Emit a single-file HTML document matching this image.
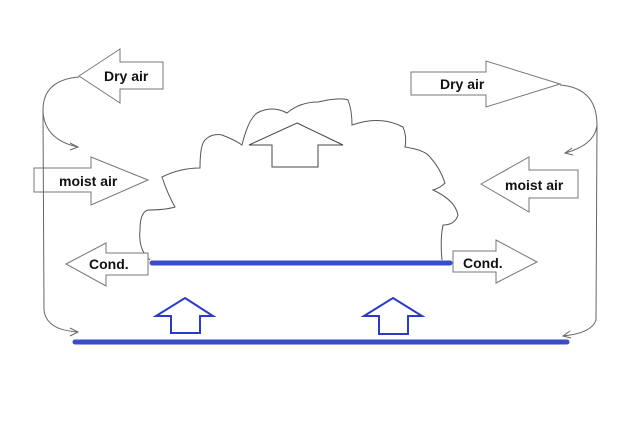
<!DOCTYPE html>
<html><head><meta charset="utf-8"><style>
html,body{margin:0;padding:0;background:#fff;}
svg{display:block}
text{font-family:"Liberation Sans",sans-serif;font-weight:bold;font-size:14px;fill:#111;}
</style></head><body>
<svg width="640" height="431" viewBox="0 0 640 431" xmlns="http://www.w3.org/2000/svg">
<rect width="640" height="431" fill="#fff"/>
<g fill="#fff" stroke="#777" stroke-width="1">
<!-- cloud -->
<path d="M150,260 Q138,250 140,230 Q140,212 148,210 Q165,210 175,207 Q168,195 162,177 Q180,168 200,168 Q200,145 205,140 Q212,133 222,135 Q235,140 242,145 Q248,120 257,113 Q272,105 287,113 Q300,102 318,102 Q340,97 348,100 Q352,110 352,125 Q380,115 403,127 Q407,137 405,147 Q425,150 430,157 Q440,168 445,183 Q440,188 433,190 Q455,200 458,215 Q455,225 443,225 Q440,240 442,260" stroke="#555"/>
<!-- cloud up arrow -->
<path d="M297,123 L343,145 L318,145 L318,167 L272,167 L272,145 L249,145 Z" stroke="#444"/>
<!-- left dry air -->
<path d="M79,76 L120,49 L120,62 L163,62 L163,89 L120,89 L120,103 Z"/>
<!-- left moist air -->
<path d="M148,180 L91,157 L91,168 L34,168 L34,192 L91,192 L91,205 Z"/>
<!-- left cond -->
<path d="M66,264 L106,243 L106,253 L148,253 L148,275 L106,275 L106,286 Z"/>
<!-- right dry air -->
<path d="M560,84 L486,61 L486,72 L411,72 L411,95 L486,95 L486,107 Z"/>
<!-- right moist air -->
<path d="M481,184 L529,157 L529,170 L578,170 L578,198 L529,198 L529,212 Z"/>
<!-- right cond -->
<path d="M537,262 L496,240 L496,251 L453,251 L453,272 L496,272 L496,283 Z"/>
</g>
<g fill="none" stroke="#666" stroke-width="1">
<path d="M79,77 Q42,80 43,112 Q45,140 78,147"/>
<path d="M70,143 L78,147 L70,150"/>
<path d="M43,112 L44,310 Q46,330 78,332"/>
<path d="M70,328 L78,332 L70,336"/>
<path d="M560,85 Q597,88 597,125 Q595,145 565,153"/>
<path d="M572,148 L565,153 L573,155"/>
<path d="M597,125 L596,320 Q592,333 563,336"/>
<path d="M570,331 L563,336 L571,338"/>
</g>
<g stroke="#3a4cc8" stroke-linecap="round" stroke-width="5">
<line x1="152" y1="263" x2="450" y2="263"/>
<line x1="75" y1="342" x2="567" y2="342"/>
</g>
<g fill="#fff" stroke="#2a3bc8" stroke-width="2">
<path d="M185,298 L213,316 L200,316 L200,333 L171,333 L171,316 L156,316 Z"/>
<path d="M393,298 L422,316 L408,316 L408,334 L379,334 L379,316 L364,316 Z"/>
</g>
<text x="104" y="81">Dry air</text>
<text x="440" y="89">Dry air</text>
<text x="59" y="186">moist air</text>
<text x="505" y="190">moist air</text>
<text x="89" y="269">Cond.</text>
<text x="463" y="268">Cond.</text>
</svg>
</body></html>
